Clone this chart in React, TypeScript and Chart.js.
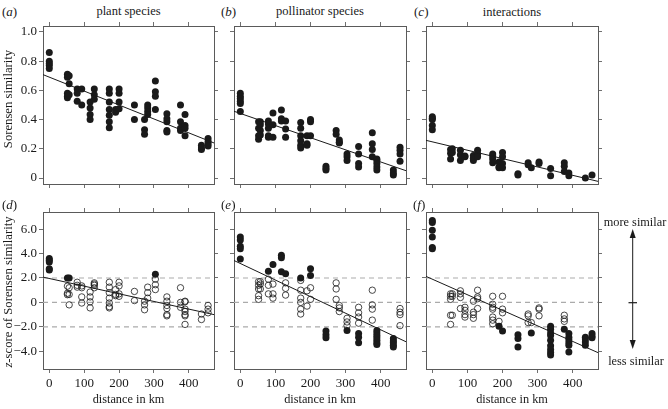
import React, { useEffect, useRef } from 'react';
import { Chart, registerables } from 'chart.js';

Chart.register(...registerables);

// ---------- data ----------
const distances = [0, 52, 57, 80, 93, 117, 129, 172, 190, 200, 244, 273, 282, 304, 337, 376, 389, 436, 455];

const xTicks = [0, 100, 200, 300, 400];
const simTicks = [0, 0.2, 0.4, 0.6, 0.8, 1.0];
const zTicks = [-4, -2, 0, 2, 4, 6];
const refLevels = [2, 0, -2];

const xRange = [-18, 472];
const simRange = [-0.041, 1.041];
const zRange = [-5.45, 7.4];

// (a) plant species – Sorensen similarity, grouped by distance
const plantSim = [
  [0.86, 0.8, 0.785, 0.77, 0.75],
  [0.71, 0.69, 0.58, 0.56, 0.55],
  [0.7, 0.645, 0.57],
  [0.61, 0.58, 0.525],
  [0.61, 0.5],
  [0.52, 0.48, 0.435, 0.4],
  [0.61, 0.57, 0.54],
  [0.61, 0.58, 0.52, 0.47, 0.43, 0.385, 0.345],
  [0.47, 0.45],
  [0.61, 0.58, 0.52, 0.475],
  [0.5, 0.4],
  [0.4, 0.33, 0.3],
  [0.5, 0.48, 0.455, 0.435],
  [0.665, 0.59, 0.56, 0.47],
  [0.44, 0.405, 0.385, 0.325, 0.315],
  [0.5, 0.385, 0.34, 0.325],
  [0.435, 0.36, 0.34, 0.29],
  [0.225, 0.205, 0.195],
  [0.27, 0.25, 0.235, 0.22],
];

// (b) pollinator species
const pollSim = [
  [0.58, 0.56, 0.545, 0.525, 0.51, 0.455],
  [0.385, 0.34, 0.29, 0.265],
  [0.385, 0.365, 0.325, 0.295],
  [0.39, 0.37, 0.34, 0.29, 0.28],
  [0.445, 0.365, 0.28],
  [0.465, 0.405, 0.39],
  [0.39, 0.335, 0.28],
  [0.38, 0.34, 0.29, 0.255, 0.225, 0.205],
  [0.29, 0.235, 0.225],
  [0.4, 0.385, 0.29],
  [0.08, 0.065, 0.055],
  [0.325, 0.3],
  [0.26, 0.245, 0.24],
  [0.165, 0.145, 0.12],
  [0.215, 0.165, 0.1, 0.075],
  [0.31, 0.235, 0.195, 0.145],
  [0.13, 0.12, 0.1, 0.075, 0.055],
  [0.055, 0.035, 0.02],
  [0.21, 0.19, 0.165, 0.115],
];

// (c) interactions
const interSim = [
  [0.42, 0.41, 0.4, 0.36, 0.33],
  [0.195, 0.17, 0.13],
  [0.2, 0.175],
  [0.19, 0.16, 0.12],
  [0.15, 0.145],
  [0.155, 0.135, 0.12],
  [0.19, 0.165, 0.145],
  [0.165, 0.15, 0.13, 0.105],
  [0.11, 0.075, 0.07],
  [0.175, 0.145, 0.1, 0.07],
  [0.03, 0.02],
  [0.105, 0.09],
  [0.07],
  [0.11, 0.1],
  [0.065, 0.015],
  [0.105, 0.08, 0.045],
  [0.035, 0.015],
  [0.0],
  [0.02],
];

// (d) z-scores plant species: significant (filled) and not significant (open)
const plantZSig = [
  [3.6, 3.45, 3.3, 2.75, 2.65],
  [2.0],
  [2.0],
  [], [], [], [], [], [], [], [], [], [],
  [2.3],
  [], [], [], [], [],
];
const plantZ = [
  [],
  [1.33, 0.75, 0.63],
  [1.2, 0.65, -0.2],
  [1.65, 1.4, 1.25],
  [1.35, 1.2, 0.45, -0.05],
  [0.85, 0.45, 0.05, -0.45],
  [1.6, 1.5, 1.4, 1.2],
  [1.65, 1.25, 0.8, 0.35, -0.05, -0.35, -0.45],
  [1.05, 0.65, 0.55],
  [1.65, 1.35, 0.7, 0.5],
  [0.9, 0.15],
  [0.1, -0.2, -0.6],
  [1.25, 0.8, 0.35],
  [1.9, 1.45, 1.05],
  [0.45, 0.1, -0.25, -0.5, -1.0, -1.1],
  [1.2, 0.0, -0.4],
  [0.1, 0.05, -0.55, -0.75, -1.0, -1.1, -1.8],
  [-0.95, -1.4],
  [-0.25, -0.55, -0.85],
];

// (e) z-scores pollinator species
const pollZSig = [
  [5.35, 5.1, 4.6, 4.4, 3.55],
  [],
  [],
  [2.55],
  [3.1],
  [3.85, 3.65, 2.5],
  [2.35],
  [2.0],
  [],
  [2.75, 2.2],
  [-2.35, -2.65, -2.9],
  [],
  [],
  [-2.3],
  [-2.55, -2.85, -3.3],
  [],
  [-2.3, -2.5, -2.7, -2.9, -3.1, -3.3, -3.45],
  [-2.95, -3.15, -3.3, -3.5, -3.65],
  [],
];
const pollZ = [
  [],
  [1.7, 1.4, 1.1, 0.55, 0.25],
  [1.7, 1.5, 1.1],
  [1.9, 1.4, 0.7],
  [1.5, 0.7, 0.35],
  [],
  [1.6, 1.15, 0.6],
  [1.8, 1.0, 0.35, 0.0, -0.55, -0.95],
  [0.95, -0.3],
  [1.2, 0.25],
  [],
  [1.6, 1.1, 0.25],
  [-0.25, -0.45, -0.75],
  [-1.3, -1.6, -1.9],
  [-0.4, -0.85, -1.2, -1.7],
  [1.0, -0.2, -0.55, -1.45],
  [],
  [],
  [-0.5, -0.8, -1.0, -1.9],
];

// (f) z-scores interactions
const interZSig = [
  [6.7, 6.55, 5.9, 5.35, 4.5, 4.4],
  [], [], [], [], [], [], [],
  [-1.95],
  [-2.35],
  [-2.65, -2.95, -3.65],
  [],
  [-2.5],
  [],
  [-1.95, -2.2, -2.5, -2.7, -3.1, -3.55, -3.85, -4.1, -4.3],
  [-2.2],
  [-2.55, -2.85, -3.05, -3.3, -3.5, -4.05],
  [-2.85, -3.0, -3.25, -3.5],
  [-2.55, -2.75, -2.9],
];
const interZ = [
  [],
  [0.7, 0.5, 0.25, -1.05, -1.8],
  [0.7, 0.5, -1.05],
  [0.95, 0.7, 0.4, -0.5],
  [-0.4, -0.65, -1.0, -1.2],
  [0.1, -0.8, -1.0, -1.3],
  [1.0, 0.45, 0.3, -0.5],
  [0.5, -0.15, -0.4, -0.55, -1.2, -1.45, -1.75],
  [-1.55],
  [0.5, -0.55, -0.85],
  [],
  [-0.95, -1.1, -1.65],
  [-1.65],
  [-0.45, -0.55, -1.1],
  [],
  [-1.05, -1.35, -1.55],
  [],
  [],
  [],
];

// regression lines: values at the two ends of the distance axis
const fitEnds = [-18, 472];
const fitPlant = [0.708, 0.24];
const fitPoll = [0.457, 0.05];
const fitInter = [0.258, -0.023];
const fitPlantZ = [2.07, -1.0];
const fitPollZ = [3.43, -3.22];
const fitInterZ = [2.13, -4.11];

// ---------- helpers ----------
const FONT = "'Liberation Serif', serif";
const INK = '#1a1a1a';

const toPoints = (groups: number[][]) =>
  groups.flatMap((g, i) => g.map((v) => ({ x: distances[i], y: v })));

const lineDs = (vals: number[]) => ({
  data: fitEnds.map((x, i) => ({ x, y: vals[i] })),
  showLine: true,
  borderColor: INK,
  borderWidth: 1,
  pointRadius: 0,
  fill: false,
});

const filledDs = (groups: number[][]) => ({
  data: toPoints(groups),
  showLine: false,
  pointRadius: 3.5,
  pointBackgroundColor: INK,
  pointBorderColor: INK,
  pointBorderWidth: 0,
});

const openDs = (groups: number[][]) => ({
  data: toPoints(groups),
  showLine: false,
  pointRadius: 3.2,
  pointBackgroundColor: 'rgba(0,0,0,0)',
  pointBorderColor: INK,
  pointBorderWidth: 0.8,
});

const refDs = (level: number) => ({
  data: fitEnds.map((x) => ({ x, y: level })),
  showLine: true,
  borderColor: '#ababab',
  borderWidth: 1.2,
  borderDash: [5, 4],
  pointRadius: 0,
  fill: false,
});

const fmtSim = (v: number) => (v === 0 ? '0' : v.toFixed(1));
const fmtZ = (v: number) => (v === 0 ? '0' : (v < 0 ? '\u2212' : '') + Math.abs(v).toFixed(1));

type PanelProps = {
  left: number;
  top: number;
  boxW: number;
  boxH: number;
  L: number;
  T: number;
  R: number;
  B: number;
  datasets: any[];
  yRange: number[];
  yTicks: number[];
  fmt: (v: number) => string;
  showY: boolean;
  showX: boolean;
};

function Panel(p: PanelProps) {
  const ref = useRef<HTMLCanvasElement>(null);
  useEffect(() => {
    const zeroPad = (s: any) => {
      s.paddingTop = 0;
      s.paddingBottom = 0;
      s.paddingLeft = 0;
      s.paddingRight = 0;
    };
    const fixW = (w: number) => (s: any) => {
      s.width = w;
      zeroPad(s);
    };
    const fixH = (h: number) => (s: any) => {
      s.height = h;
      zeroPad(s);
    };
    const setTicks = (vals: number[]) => (s: any) => {
      s.ticks = vals.map((v) => ({ value: v }));
    };
    const grid = { drawOnChartArea: false, drawTicks: true, tickLength: 4, color: '#707070', lineWidth: 1 };
    const border = { display: true, color: '#5a5a5a', width: 1 };
    const font = { family: FONT, size: 13 };
    const chart = new Chart(ref.current as HTMLCanvasElement, {
      type: 'scatter',
      data: { datasets: p.datasets },
      options: {
        responsive: false,
        animation: false,
        events: [],
        layout: { padding: 0 },
        plugins: { legend: { display: false }, tooltip: { enabled: false }, title: { display: false } },
        scales: {
          x: {
            type: 'linear',
            position: 'bottom',
            min: xRange[0],
            max: xRange[1],
            afterBuildTicks: setTicks(xTicks),
            afterFit: fixH(p.B),
            grid,
            border,
            ticks: { display: p.showX, font, color: INK, padding: 3, autoSkip: false, maxRotation: 0 },
          },
          xTop: {
            type: 'linear',
            position: 'top',
            min: xRange[0],
            max: xRange[1],
            afterBuildTicks: setTicks(xTicks),
            afterFit: fixH(p.T),
            grid,
            border,
            ticks: { display: false },
          },
          y: {
            type: 'linear',
            position: 'left',
            min: p.yRange[0],
            max: p.yRange[1],
            afterBuildTicks: setTicks(p.yTicks),
            afterFit: fixW(p.L),
            grid,
            border,
            ticks: {
              display: p.showY,
              font,
              color: INK,
              padding: 2,
              autoSkip: false,
              callback: (v: any) => p.fmt(Number(v)),
            },
          },
          yRight: {
            type: 'linear',
            position: 'right',
            min: p.yRange[0],
            max: p.yRange[1],
            afterBuildTicks: setTicks(p.yTicks),
            afterFit: fixW(p.R),
            grid,
            border,
            ticks: { display: false },
          },
        },
      } as any,
    });
    return () => chart.destroy();
  }, []);
  const w = p.L + p.boxW + p.R;
  const h = p.T + p.boxH + p.B;
  return (
    <canvas
      ref={ref}
      width={w}
      height={h}
      style={{ position: 'absolute', left: p.left - p.L, top: p.top - p.T, width: w, height: h }}
    />
  );
}

const txt = (x: number, y: number, content: React.ReactNode, size: number, rotate = false) => (
  <div
    style={{
      position: 'absolute',
      left: x,
      top: y,
      transform: rotate ? 'translate(-50%,-50%) rotate(-90deg)' : 'translate(-50%,-50%)',
      fontFamily: FONT,
      fontSize: size,
      lineHeight: 1,
      whiteSpace: 'nowrap',
      color: INK,
    }}
  >
    {content}
  </div>
);

const lbl = (x: number, y: number, letter: string) => (
  <div
    style={{
      position: 'absolute',
      left: x,
      top: y,
      transform: 'translateY(-50%)',
      fontFamily: FONT,
      fontSize: 13,
      lineHeight: 1,
      whiteSpace: 'nowrap',
      color: INK,
    }}
  >
    (<i>{letter}</i>)
  </div>
);

export default function App() {
  const topRow = { top: 26, boxH: 158, T: 6, B: 6, yRange: simRange, yTicks: simTicks, fmt: fmtSim, showX: false };
  const botRow = { top: 212, boxH: 157, T: 6, B: 24, yRange: zRange, yTicks: zTicks, fmt: fmtZ, showX: true };
  const refs = () => refLevels.map((l) => refDs(l));
  return (
    <div style={{ position: 'absolute', left: 0, top: 0, width: 668, height: 409, background: '#fff', overflow: 'hidden' }}>
      <Panel {...topRow} left={43} boxW={171} L={43} R={6} showY={true}
        datasets={[lineDs(fitPlant), filledDs(plantSim)]} />
      <Panel {...topRow} left={234} boxW={172} L={6} R={6} showY={false}
        datasets={[lineDs(fitPoll), filledDs(pollSim)]} />
      <Panel {...topRow} left={426} boxW={172} L={6} R={6} showY={false}
        datasets={[lineDs(fitInter), filledDs(interSim)]} />
      <Panel {...botRow} left={43} boxW={171} L={43} R={6} showY={true}
        datasets={[lineDs(fitPlantZ), filledDs(plantZSig), openDs(plantZ), ...refs()]} />
      <Panel {...botRow} left={234} boxW={172} L={6} R={6} showY={false}
        datasets={[lineDs(fitPollZ), filledDs(pollZSig), openDs(pollZ), ...refs()]} />
      <Panel {...botRow} left={426} boxW={172} L={6} R={6} showY={false}
        datasets={[lineDs(fitInterZ), filledDs(interZSig), openDs(interZ), ...refs()]} />

      {lbl(2, 10.5, 'a')}
      {lbl(221, 10.5, 'b')}
      {lbl(414, 10.5, 'c')}
      {lbl(2, 204, 'd')}
      {lbl(221, 204, 'e')}
      {lbl(413, 204, 'f')}

      {txt(128.5, 11, 'plant species', 12.5)}
      {txt(320, 11, 'pollinator species', 12.5)}
      {txt(512, 12, 'interactions', 12.5)}

      {txt(8, 99, 'Sorensen similarity', 12.7, true)}
      {txt(8, 292, <span><i>z</i>-score of Sorensen similarity</span>, 12.7, true)}

      {txt(128.5, 399, 'distance in km', 12.3)}
      {txt(320, 399, 'distance in km', 12.3)}
      {txt(512, 399, 'distance in km', 12.3)}

      {txt(635, 221.5, 'more similar', 12.3)}
      {txt(636, 361, 'less similar', 12.3)}

      <svg width={668} height={409} style={{ position: 'absolute', left: 0, top: 0, pointerEvents: 'none' }}>
        <line x1={632.7} y1={236} x2={632.7} y2={342} stroke={INK} strokeWidth={1} />
        <polygon points="632.7,229 629.7,238 635.7,238" fill={INK} />
        <polygon points="632.7,349 629.7,340 635.7,340" fill={INK} />
        <line x1={628.5} y1={302.7} x2={637} y2={302.7} stroke={INK} strokeWidth={1.2} />
      </svg>
    </div>
  );
}
